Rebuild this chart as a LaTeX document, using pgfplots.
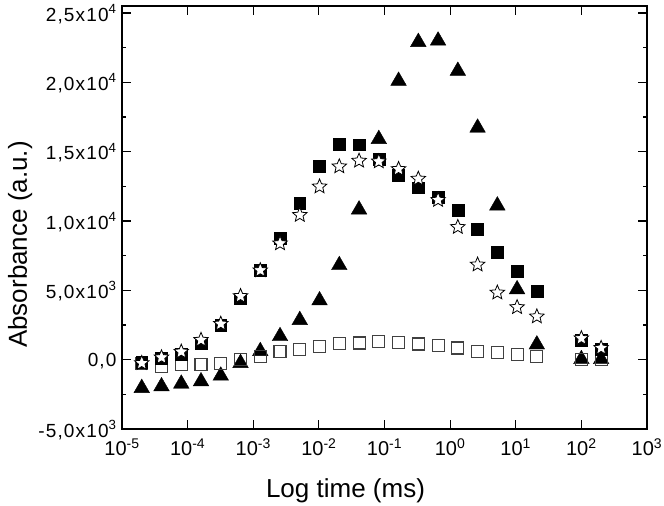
\documentclass[border=0pt]{standalone}
\usepackage{pgfplots}
\pgfplotsset{compat=1.18}
\usepackage{pgfplotstable}
\usepackage{fontspec}
\setmainfont{Liberation Sans}

\pgfdeclareplotmark{ostar}{%
  \pgfpathmoveto{\pgfpointpolar{90}{\pgfplotmarksize}}%
  \pgfpathlineto{\pgfpointpolar{126}{0.45\pgfplotmarksize}}%
  \pgfpathlineto{\pgfpointpolar{162}{\pgfplotmarksize}}%
  \pgfpathlineto{\pgfpointpolar{198}{0.45\pgfplotmarksize}}%
  \pgfpathlineto{\pgfpointpolar{234}{\pgfplotmarksize}}%
  \pgfpathlineto{\pgfpointpolar{270}{0.45\pgfplotmarksize}}%
  \pgfpathlineto{\pgfpointpolar{306}{\pgfplotmarksize}}%
  \pgfpathlineto{\pgfpointpolar{342}{0.45\pgfplotmarksize}}%
  \pgfpathlineto{\pgfpointpolar{18}{\pgfplotmarksize}}%
  \pgfpathlineto{\pgfpointpolar{54}{0.45\pgfplotmarksize}}%
  \pgfpathclose
  \pgfusepathqfillstroke
}

\pgfplotstableread{
t A B C D
2e-5 -200 -250 -300 -2050
4e-5 100 160 -490 -1930
8e-5 400 570 -370 -1740
1.6e-4 1170 1420 -370 -1570
3.2e-4 2500 2580 -250 -1160
6.4e-4 4390 4580 -10 -250
1.28e-3 6440 6440 210 610
2.56e-3 8740 8380 570 1690
5.12e-3 11275 10430 720 2850
1.024e-2 13930 12480 960 4270
2.048e-2 15550 13930 1170 6810
4.096e-2 15500 14340 1200 10820
8.192e-2 14460 14290 1300 15900
0.16384 13300 13740 1250 20100
0.32768 12400 13040 1130 22900
0.65536 11710 11510 1010 23000
1.31072 10790 9560 840 20820
2.62144 9390 6850 590 16720
5.24288 7770 4830 520 11110
10.48576 6370 3780 400 5070
20.97152 4920 3110 230 1090
100 1420 1540 40 30
200 770 840 40 30
}\data

\begin{document}
\begin{tikzpicture}
\begin{axis}[
  scale only axis, width=525bp, height=423bp,
  xmode=log, xmin=1e-5, xmax=1e3, ymin=-5000, ymax=25500,
  scaled y ticks=false,
  xtick={1e-5,1e-4,1e-3,1e-2,1e-1,1,1e1,1e2,1e3},
  xticklabels={10\textsuperscript{-5},10\textsuperscript{-4},10\textsuperscript{-3},10\textsuperscript{-2},10\textsuperscript{-1},10\textsuperscript{0},10\textsuperscript{1},10\textsuperscript{2},10\textsuperscript{3}},
  xminorticks=false,
  ytick={-5000,0,5000,10000,15000,20000,25000},
  yticklabels={{-5,0x10\textsuperscript{3}},{0,0},{5,0x10\textsuperscript{3}},{1,0x10\textsuperscript{4}},{1,5x10\textsuperscript{4}},{2,0x10\textsuperscript{4}},{2,5x10\textsuperscript{4}}},
  minor ytick={-2500,2500,7500,12500,17500,22500},
  tick align=inside, major tick length=9bp, minor tick length=4.5bp,
  axis line style={line width=1.4bp},
  every tick/.style={line width=1.2bp, black},
  tick label style={font=\fontsize{19bp}{19bp}\selectfont},
  xticklabel style={font=\fontsize{20bp}{20bp}\selectfont, yshift=-6bp},
  yticklabel style={font=\fontsize{19bp}{19bp}\selectfont\addfontfeature{LetterSpace=6}, xshift=-2bp, yshift=-1bp},
  label style={font=\fontsize{26bp}{26bp}\selectfont},
  xlabel={Log time (ms)},
  ylabel={Absorbance (a.u.)},
  xlabel style={at={(axis description cs:0.4257,-0.163)}, anchor=base},
  ylabel style={at={(axis description cs:-0.181,0.436)}, anchor=base},
  clip=false,
]
\addplot[only marks, mark=triangle*, mark size=9bp, mark options={fill=black, draw=black}] table[x=t,y=D]{\data};
\addplot[only marks, mark=square, mark size=6bp, mark options={fill=white, draw=black!75, line width=1.1bp}] table[x=t,y=C]{\data};
\addplot[only marks, mark=square*, mark size=5.9bp, mark options={fill=black, draw=black}] table[x=t,y=A]{\data};
\addplot[only marks, mark=ostar, mark size=7.6bp, mark options={fill=white, draw=black, line width=0.8bp}] table[x=t,y=B]{\data};
\coordinate (ll) at (rel axis cs:0,0);
\coordinate (ur) at (rel axis cs:1,1);
\end{axis}
\pgfresetboundingbox
\path[use as bounding box] ([shift={(-122bp,-77bp)}]ll) rectangle ([shift={(17bp,6bp)}]ur);
\end{tikzpicture}
\end{document}
